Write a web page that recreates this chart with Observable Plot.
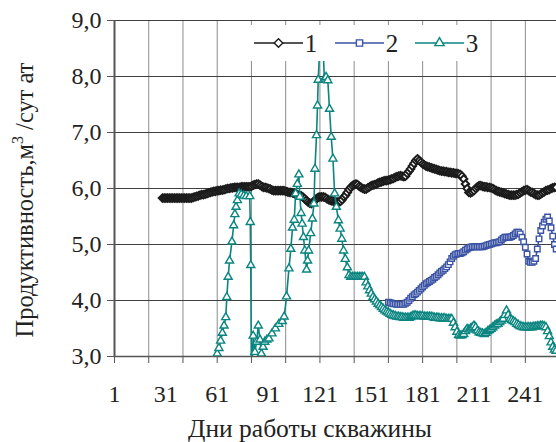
<!DOCTYPE html>
<html><head><meta charset="utf-8">
<script src="https://cdn.jsdelivr.net/npm/d3@7"></script>
<script src="https://cdn.jsdelivr.net/npm/@observablehq/plot@0.6"></script>
<style>body{margin:0;background:#fff} svg{display:block} svg text{font-family:'Liberation Serif','Times New Roman',serif !important}</style>
</head><body><div id="chart"></div>
<script>
// ---- data ----
const seriesNames = ["1", "2", "3"];
const xTickLabels = [1, 31, 61, 91, 121, 151, 181, 211, 241];
const xGridDays = [1, 21, 41, 61, 81, 101, 121, 141, 161, 181, 201, 221, 241];
const yTicks = [3, 4, 5, 6, 7, 8, 9];

// series 1: daily values from day 29
const s1Start = 29;
const s1Values = [
  5.83,5.83,5.83,5.83,5.83,5.83,5.83,5.83,5.83,5.83,
  5.83,5.83,5.83,5.83,5.83,5.83,5.83,5.83,5.84,5.85,
  5.86,5.87,5.88,5.89,5.89,5.90,5.91,5.92,5.93,5.94,
  5.95,5.95,5.96,5.96,5.97,5.97,5.98,5.99,6.00,6.00,
  6.01,6.01,6.02,6.02,6.02,6.02,6.03,6.03,6.03,6.03,
  6.03,6.03,6.04,6.06,6.07,6.08,6.08,6.06,6.04,6.02,
  6.02,6.01,6.00,5.99,5.97,5.96,5.96,5.96,5.96,5.96,
  5.96,5.96,5.95,5.94,5.93,5.93,5.92,5.91,5.90,5.89,
  5.88,5.87,5.85,5.82,5.79,5.76,5.74,5.73,5.75,5.79,
  5.82,5.84,5.85,5.85,5.85,5.84,5.82,5.80,5.79,5.78,
  5.77,5.76,5.76,5.76,5.77,5.80,5.85,5.88,5.93,5.98,
  6.02,6.05,6.07,6.08,6.07,6.04,6.02,6.00,5.99,5.99,
  6.01,6.03,6.05,6.06,6.07,6.08,6.10,6.11,6.12,6.13,
  6.14,6.14,6.15,6.16,6.17,6.18,6.20,6.21,6.22,6.23,
  6.22,6.21,6.22,6.27,6.31,6.35,6.40,6.45,6.50,6.53,
  6.50,6.47,6.44,6.42,6.40,6.39,6.38,6.37,6.36,6.35,
  6.34,6.33,6.32,6.31,6.31,6.30,6.30,6.29,6.29,6.28,
  6.28,6.27,6.27,6.26,6.25,6.22,6.17,6.08,6.00,5.93,
  5.92,5.94,5.96,6.00,6.03,6.05,6.05,6.04,6.03,6.03,
  6.02,6.02,6.01,6.00,5.98,5.96,5.95,5.94,5.93,5.92,
  5.91,5.90,5.89,5.88,5.88,5.88,5.88,5.89,5.90,5.92,
  5.94,5.96,5.97,5.98,5.96,5.94,5.93,5.91,5.89,5.88,
  5.88,5.90,5.92,5.94,5.96,5.97,5.98,6.00,6.01,6.02,
  6.02
];

// series 2: daily values from day 161
const s2Start = 161;
const s2Values = [
  3.97,3.96,3.95,3.94,3.94,3.93,3.93,3.93,3.93,3.93,
  3.95,3.97,4.00,4.04,4.07,4.10,4.12,4.15,4.18,4.21,
  4.24,4.27,4.30,4.32,4.34,4.36,4.38,4.41,4.43,4.46,
  4.49,4.52,4.54,4.57,4.60,4.64,4.69,4.75,4.79,4.82,
  4.83,4.84,4.84,4.85,4.87,4.90,4.92,4.94,4.95,4.96,
  4.96,4.96,4.96,4.96,4.96,4.96,4.97,4.98,4.99,5.00,
  5.01,5.02,5.03,5.03,5.04,5.05,5.08,5.11,5.13,5.13,
  5.13,5.13,5.14,5.16,5.19,5.22,5.22,5.19,5.13,5.05,
  4.95,4.83,4.70,4.68,4.68,4.70,4.75,4.92,5.10,5.25,
  5.33,5.40,5.45,5.49,5.42,5.30,5.15,5.00,4.92
];

// series 3: irregular head (day, value), then daily tail from day 139
const s3HeadDays = [
  59,61,62,63,64,65,66,66.6,67.4,68.2,69.6,70.6,71.3,72,72.8,73.8,75,76.5,78,80,80.3,80.6,81,
  82,83,84,85,86,86.8,87.8,88.8,90,91.2,93,95,97,99,100.1,
  101.5,102.9,104,105,106,106.8,107.8,108.7,109.3,110,110.6,111.4,112.2,113.2,113.8,114.4,
  115.6,116.6,117.5,118.1,119,119.6,120,120.8,122,123,123.6,124.6,125.6,126.6,127.6,128.6,
  129.6,130.6,131.8,132.8,133.8,134.8,135.8,137,138
];
const s3HeadValues = [
  2.8,3.05,3.15,3.28,3.42,3.55,3.70,4.06,4.42,4.71,5.05,5.34,5.54,5.67,5.79,5.91,5.89,5.87,5.86,5.86,5.40,4.63,2.5,
  3.37,3.08,3.26,3.55,3.30,3.05,3.17,3.26,3.30,3.32,3.41,3.50,3.58,3.63,3.71,
  4.07,4.57,4.92,5.30,5.44,5.91,6.08,6.25,5.85,5.56,5.37,5.13,4.89,4.55,4.71,4.89,
  5.20,5.46,5.73,6.35,6.95,7.48,7.94,8.45,8.55,8.40,7.96,7.99,7.93,7.42,6.92,6.53,
  5.91,5.67,5.43,5.28,5.10,4.89,4.74,4.59,4.45
];
const s3TailStart = 139;
const s3TailValues = [
  4.42,4.42,4.42,4.42,4.42,4.42,4.42,4.42,4.42,4.32,
  4.25,4.18,4.12,4.06,4.02,3.98,3.94,3.91,3.88,3.85,
  3.82,3.80,3.78,3.76,3.74,3.73,3.72,3.71,3.71,3.70,
  3.70,3.69,3.69,3.69,3.69,3.70,3.72,3.73,3.73,3.72,
  3.72,3.72,3.72,3.71,3.71,3.71,3.71,3.71,3.70,3.69,
  3.69,3.69,3.68,3.68,3.68,3.68,3.67,3.67,3.67,3.67,
  3.60,3.52,3.44,3.38,3.37,3.38,3.40,3.45,3.49,3.48,
  3.50,3.52,3.55,3.52,3.46,3.43,3.42,3.41,3.40,3.42,
  3.45,3.47,3.49,3.52,3.55,3.57,3.58,3.61,3.64,3.67,
  3.74,3.82,3.74,3.67,3.65,3.63,3.61,3.58,3.56,3.54,
  3.53,3.52,3.52,3.52,3.52,3.52,3.52,3.53,3.53,3.54,
  3.54,3.55,3.55,3.54,3.52,3.45,3.36,3.25,3.17,3.12,
  3.10
];

// ---- style ----
const colors = ["#1c1c1c", "#3a53a4", "#0b8580"];
const symbols = ["diamond2", "square", "triangle"];
const radii = [3.4, 3.1, 3.0];
const strokeWidths = [1.9, 1.4, 1.4];
const font = "'Liberation Serif','Times New Roman',serif";

const d1 = s1Values.map((v, i) => ({day: s1Start + i, value: v}));
const d2 = s2Values.map((v, i) => ({day: s2Start + i, value: v}));
const d3s = s3HeadDays.map((d, i) => ({day: d, value: s3HeadValues[i]}))
  .concat(s3TailValues.map((v, i) => ({day: s3TailStart + i, value: v})));
const data = [d1, d2, d3s];

const fmt = d => d.toFixed(1).replace(".", ",");

const seriesMarks = [];
data.forEach((d, k) => {
  seriesMarks.push(Plot.line(d, {x: "day", y: "value", stroke: colors[k], strokeWidth: 1.6, clip: true}));
  seriesMarks.push(Plot.dot(d, {x: "day", y: "value", symbol: symbols[k], r: radii[k], stroke: colors[k], strokeWidth: strokeWidths[k], fill: "white", clip: true}));
});

const chart = Plot.plot({
  width: 556,
  height: 442,
  marginLeft: 114,
  marginRight: 0,
  marginTop: 20,
  marginBottom: 86,
  style: {fontFamily: font, background: "white", overflow: "visible"},
  x: {domain: [1, 259.2]},
  y: {domain: [3, 9]},
  marks: [
    Plot.gridX(xGridDays, {stroke: "#8c8c8c", strokeOpacity: 1, strokeWidth: 1}),
    Plot.gridY(yTicks, {stroke: "#3f3f3f", strokeOpacity: 1, strokeWidth: 1}),
    Plot.ruleY([3], {stroke: "#555", strokeWidth: 1.5}),
    Plot.ruleX([1], {stroke: "#555", strokeWidth: 2}),
    Plot.axisY(yTicks, {tickSize: 7, tickPadding: 6, tickFormat: fmt, fontSize: 24, fontFamily: font, color: "#222", stroke: "#555", label: null}),
    Plot.axisX(xGridDays, {tickSize: 7, tickFormat: () => "", stroke: "#555", label: null}),
    Plot.axisX(xTickLabels, {tickSize: 0, tickPadding: 28, fontSize: 24, fontFamily: font, color: "#222", label: null}),
    ...seriesMarks
  ]
});

document.getElementById("chart").appendChild(chart);

// legend and axis titles
const svg = d3.select(chart);
const lg = svg.append("g");
lg.append("rect").attr("x", 250).attr("y", 25).attr("width", 236).attr("height", 36).attr("fill", "white");
const legendX = [254, 335, 415];
seriesNames.forEach((name, k) => {
  const x0 = legendX[k];
  lg.append("line").attr("x1", x0).attr("x2", x0 + 49).attr("y1", 43).attr("y2", 43)
    .attr("stroke", colors[k]).attr("stroke-width", 1.6);
  const symType = [d3.symbolDiamond2, d3.symbolSquare, d3.symbolTriangle][k];
  lg.append("path").attr("d", d3.symbol(symType, Math.PI * radii[k] * radii[k] * 1.3)())
    .attr("transform", `translate(${x0 + 24.5},43)`)
    .attr("fill", "white").attr("stroke", colors[k]).attr("stroke-width", 1.4);
  lg.append("text").attr("x", x0 + 57).attr("y", 52).text(name)
    .attr("font-size", 25).attr("fill", "#222");
});

svg.append("text").attr("x", 310).attr("y", 437).attr("text-anchor", "middle")
  .attr("font-size", 25.5).attr("fill", "#222")
  .text("Дни работы скважины");

const yl = svg.append("text").attr("transform", "translate(33,200) rotate(-90)")
  .attr("text-anchor", "middle").attr("font-size", 24.5).attr("fill", "#222");
yl.append("tspan").text("Продуктивность,м");
yl.append("tspan").attr("dy", -10).attr("font-size", 16).text("3");
yl.append("tspan").attr("dy", 10).text(" /сут ат");

svg.selectAll("text").attr("font-family", font).style("font-family", font);
</script></body></html>
